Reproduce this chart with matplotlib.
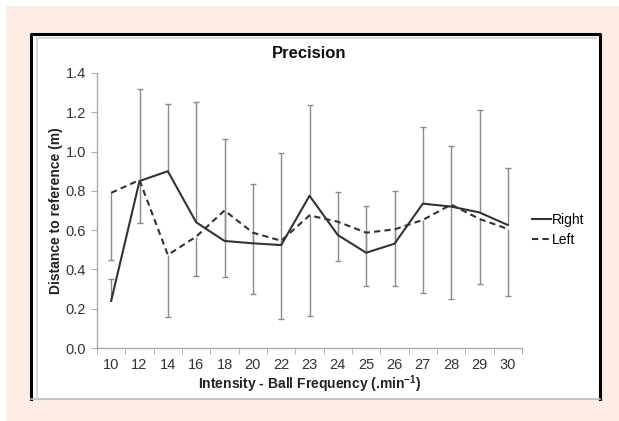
import matplotlib.pyplot as plt
import matplotlib.patches as patches
import numpy as np

plt.rcParams['font.family'] = ['Liberation Sans', 'DejaVu Sans']
plt.rcParams['mathtext.fontset'] = 'custom'
plt.rcParams['mathtext.rm'] = 'Liberation Sans'
plt.rcParams['mathtext.bf'] = 'Liberation Sans:bold'

freq = ["10", "12", "14", "16", "18", "20", "22", "23", "24", "25", "26", "27", "28", "29", "30"]
right = [0.24, 0.85, 0.90, 0.64, 0.545, 0.533, 0.524, 0.775, 0.575, 0.485, 0.531, 0.735, 0.72, 0.69, 0.626]
left = [0.79, 0.855, 0.474, 0.567, 0.70, 0.587, 0.546, 0.675, 0.643, 0.587, 0.604, 0.652, 0.73, 0.657, 0.606]
# right is drawn with +SD, left with -SD
right_sd = [0.11, 0.47, 0.34, 0.61, 0.52, 0.30, 0.47, 0.46, 0.22, 0.24, 0.27, 0.39, 0.31, 0.52, 0.29]
left_sd = [0.34, 0.22, 0.315, 0.20, 0.34, 0.31, 0.40, 0.51, 0.20, 0.27, 0.29, 0.37, 0.48, 0.33, 0.34]

W, H = 619, 421
fig = plt.figure(figsize=(W / 100, H / 100), dpi=100)

# page background and chart frame
fig.patches.append(patches.Rectangle((6 / W, 0), 1, 1 - 6 / H, transform=fig.transFigure,
                                     facecolor='#fdede3', edgecolor='none', zorder=-3))
fig.patches.append(patches.Rectangle((31 / W, 1 - 399 / H), 570 / W, 365 / H, transform=fig.transFigure,
                                     facecolor='white', edgecolor='none', zorder=-2))
fig.lines.append(plt.Line2D([31 / W, 31 / W, 600 / W, 600 / W], [1 - 399 / H, 1 - 34 / H, 1 - 34 / H, 1 - 399 / H],
                            transform=fig.transFigure, color='black', lw=2.2))
fig.lines.append(plt.Line2D([31 / W, 600 / W], [1 - 399 / H, 1 - 399 / H],
                            transform=fig.transFigure, color='#bbbbbb', lw=1.2))
fig.lines.append(plt.Line2D([37 / W, 37 / W, 596 / W], [1 - 398 / H, 1 - 38 / H, 1 - 38 / H],
                            transform=fig.transFigure, color='#d8d8d8', lw=1.5))

ax = fig.add_axes([97 / W, 1 - 348 / H, 425 / W, 275 / H])
ax.set_facecolor('none')
x = np.arange(len(freq))
right = np.array(right)
left = np.array(left)

ebc = '#8a8a8a'
ax.vlines(x, right, right + np.array(right_sd), color=ebc, lw=1.0, zorder=2)
ax.vlines(x, left - np.array(left_sd), left, color=ebc, lw=1.0, zorder=2)
ax.plot(x, right + np.array(right_sd), ls='none', marker='_', ms=5, mew=1.0, color=ebc, zorder=2)
ax.plot(x, left - np.array(left_sd), ls='none', marker='_', ms=5, mew=1.0, color=ebc, zorder=2)

ax.plot(x, right, color='#333333', lw=1.5, label='Right', zorder=3)
ax.plot(x, left, color='#333333', lw=1.5, ls=(0, (3, 2)), label='Left', zorder=3)

ax.set_xlim(-0.5, len(freq) - 0.5)
ax.set_ylim(0, 1.4)
ax.set_yticks(np.arange(0, 1.41, 0.2))
ax.set_yticklabels([f"{v:.1f}" for v in np.arange(0, 1.41, 0.2)])
ax.set_xticks(x)
ax.set_xticklabels(freq)
ax.set_xticks(np.arange(-0.5, len(freq)), minor=True)
ax.tick_params(axis='x', which='major', length=0, pad=7)
ax.tick_params(axis='x', which='minor', length=4, color='#aaaaaa', direction='out')
ax.tick_params(axis='y', length=4, color='#aaaaaa', direction='out', pad=4)
ax.tick_params(labelsize=10.5, labelcolor='#333333')

for s in ['top', 'right']:
    ax.spines[s].set_visible(False)
for s in ['left', 'bottom']:
    ax.spines[s].set_color('#aaaaaa')
    ax.spines[s].set_linewidth(1.0)

ax.set_title("Precision", fontsize=12, fontweight='bold', color='#111111', pad=11)
ax.set_xlabel(r"Intensity - Ball Frequency (.min$^{\mathbf{-1}}$)", fontsize=10, fontweight='bold',
              color='#222222', labelpad=1)
ax.set_ylabel("Distance to reference (m)", fontsize=10, fontweight='bold', color='#222222', labelpad=2)

fig.legend(loc='center left', bbox_to_anchor=(532 / W, 1 - 230 / H), frameon=False, fontsize=10,
           handlelength=1.4, handletextpad=0.05, labelspacing=0.45, borderpad=0, borderaxespad=0)

fig.savefig('out.png', dpi=100)
